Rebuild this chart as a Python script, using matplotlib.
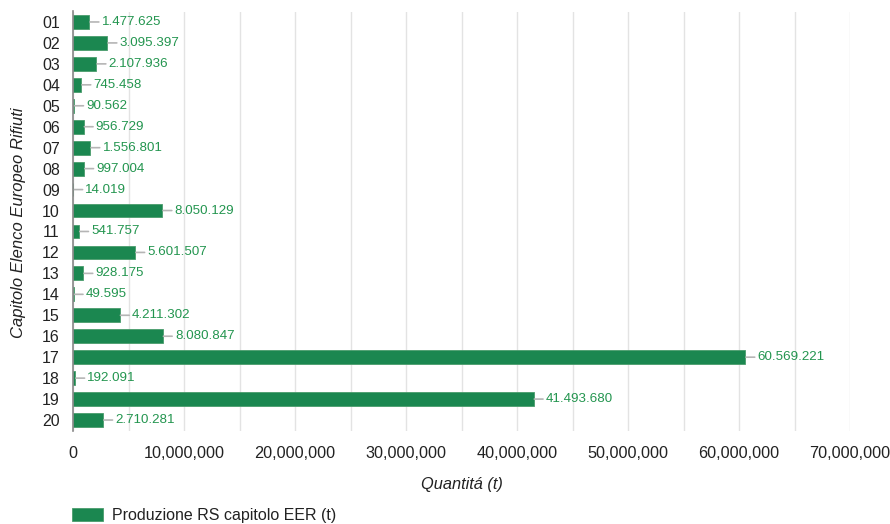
import matplotlib
matplotlib.use("Agg")
import matplotlib.pyplot as plt
from matplotlib.ticker import FuncFormatter, MultipleLocator

# Produzione di rifiuti speciali per capitolo EER (tonnellate)
capitoli = ["01", "02", "03", "04", "05", "06", "07", "08", "09", "10",
            "11", "12", "13", "14", "15", "16", "17", "18", "19", "20"]
quantita = [1477625, 3095397, 2107936, 745458, 90562, 956729, 1556801, 997004,
            14019, 8050129, 541757, 5601507, 928175, 49595, 4211302, 8080847,
            60569221, 192091, 41493680, 2710281]
serie = "Produzione RS capitolo EER (t)"
titolo_x = "Quantitá (t)"
titolo_y = "Capitolo Elenco Europeo Rifiuti"

BAR = "#1b8750"
TXT = "#23954f"
GRID = "#e3e3e3"

plt.rcParams["font.family"] = ["Liberation Sans", "DejaVu Sans"]

fig = plt.figure(figsize=(8.9, 5.24), dpi=100)
ax = fig.add_axes([73 / 890, 1 - 430.5 / 524, (850 - 73) / 890, (430.5 - 11.5) / 524])

pos = list(range(len(capitoli)))
bars = ax.barh(pos, quantita, height=0.66, color=BAR, edgecolor="#4a9c6c",
               linewidth=0.6, label=serie, zorder=3)

def it_fmt(v):
    return f"{v:,}".replace(",", ".")

for y, v in zip(pos, quantita):
    ax.annotate(it_fmt(v), xy=(v, y), xytext=(8.8, 0), textcoords="offset points",
                ha="left", va="center", fontsize=9.6, color=TXT,
                arrowprops=dict(arrowstyle="-", color="#b5b5b5", lw=1.2,
                                shrinkA=0, shrinkB=0.5),
                zorder=4)

ax.set_ylim(len(capitoli) - 0.5, -0.5)
ax.set_xlim(0, 70_000_000)
ax.set_yticks(pos)
ax.set_yticklabels(capitoli, fontsize=11.5, color="#222222")
ax.xaxis.set_major_locator(MultipleLocator(10_000_000))
ax.xaxis.set_minor_locator(MultipleLocator(5_000_000))
ax.xaxis.set_major_formatter(FuncFormatter(lambda v, p: f"{int(v):,}"))
ax.tick_params(axis="x", length=0, which="both", pad=11, labelsize=11.7, labelcolor="#222222")
ax.tick_params(axis="y", length=0, pad=9.5)

ax.grid(axis="x", which="both", color=GRID, lw=1.0, zorder=0)
for s in ["top", "right", "bottom"]:
    ax.spines[s].set_visible(False)
ax.spines["left"].set_color("#888888")
ax.spines["left"].set_linewidth(1.2)
ax.spines["left"].set_zorder(5)

fig.text((73 + 850) / 2 / 890, 1 - 485 / 524, titolo_x, ha="center", va="center",
         fontsize=11.8, style="italic", color="#222222")
fig.text(18.5 / 890, 1 - 223 / 524, titolo_y, ha="center", va="center", rotation=90,
         fontsize=12, style="italic", color="#222222")

fig.legend(handles=[bars], labels=[serie], loc="upper left",
           bbox_to_anchor=(72 / 890, 1 - 508 / 524), frameon=False,
           borderpad=0, borderaxespad=0, handlelength=1.95, handleheight=0.9,
           handletextpad=0.55, fontsize=11.5, labelcolor="#222222")

fig.savefig("out.png", dpi=100)
